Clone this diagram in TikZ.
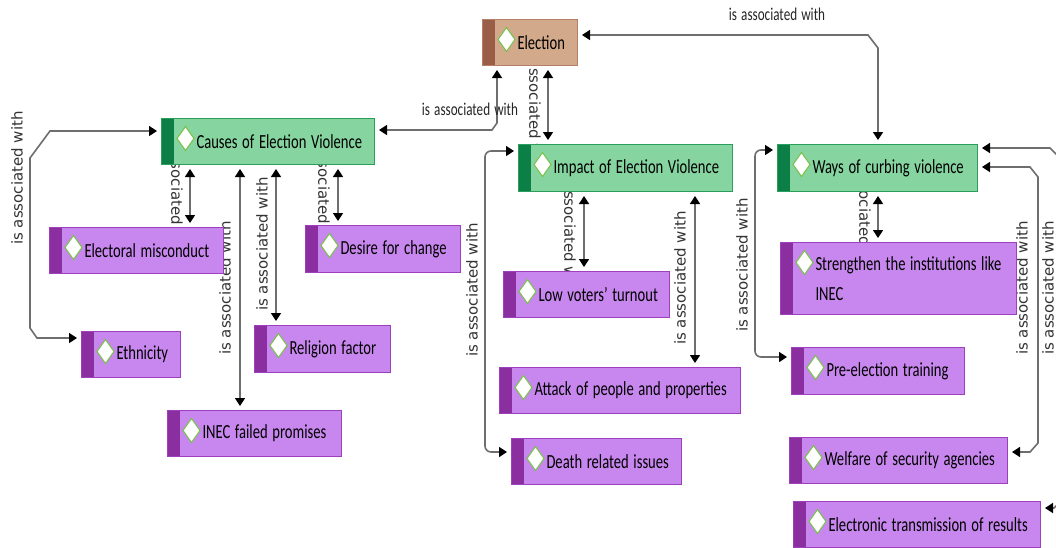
\documentclass[tikz,border=0pt]{standalone}
\usepackage{fontspec}
\usetikzlibrary{arrows.meta}
\newfontfamily\boxfont{Carlito}[FakeStretch=0.73,WordSpace=1.4]
\newfontfamily\labfont{DejaVu Sans}
\definecolor{elecfill}{HTML}{D2A98B}
\definecolor{elecstrip}{HTML}{9A5E48}
\definecolor{elecline}{HTML}{B57E66}
\definecolor{grnfill}{HTML}{86D4A0}
\definecolor{grnstrip}{HTML}{0C7F46}
\definecolor{grnline}{HTML}{2A9F5C}
\definecolor{purfill}{HTML}{C887EE}
\definecolor{purstrip}{HTML}{8B2EA0}
\definecolor{purline}{HTML}{9E40BB}
\definecolor{diamline}{HTML}{7CC251}
\definecolor{connline}{HTML}{6E6E6E}
\pgfdeclarelayer{bg}
\pgfsetlayers{bg,main}
\begin{document}
\begin{tikzpicture}[x=1pt,y=-1pt]
\tikzstyle{conc}=[anchor=north west, inner sep=0pt, align=flush left, line width=1pt, font=\boxfont\fontsize{20}{30}\selectfont,
  path picture={\fill[#1] (path picture bounding box.north west) rectangle ([xshift=12pt]path picture bounding box.south west);
    \draw[diamline, fill=white, line width=1.1pt] ([xshift=24pt,yshift=-20pt]path picture bounding box.north west) +(0,12pt) -- +(8.5pt,0) -- +(0,-12pt) -- +(-8.5pt,0) -- cycle;}]
\tikzstyle{elecbox}=[conc=elecstrip, fill=elecfill, draw=elecline]
\tikzstyle{grnbox}=[conc=grnstrip, fill=grnfill, draw=grnline]
\tikzstyle{purbox}=[conc=purstrip, fill=purfill, draw=purline]
\tikzstyle{conn}=[draw=connline, line width=1.6pt, shorten >=4pt, shorten <=4pt, {Triangle[width=10pt,length=8pt,color=black]}-{Triangle[width=10pt,length=8pt,color=black]}]
\tikzstyle{vlab}=[font=\labfont\fontsize{15}{15}\selectfont, text=black!80, inner sep=0pt]
\tikzstyle{hlab}=[font=\boxfont\fontsize{18}{18}\selectfont, text=black!85, inner sep=0pt]
\useasboundingbox (0,0) rectangle (1056,547);
\node[elecbox, text width=95pt, minimum height=46pt] (elec) at (482,19) {\hspace*{35pt}Election};
\node[grnbox, text width=213pt, minimum height=46pt] (causes) at (161,118) {\hspace*{35pt}Causes of Election Violence};
\node[grnbox, text width=214pt, minimum height=47pt] (impact) at (518,144) {\hspace*{35pt}Impact of Election Violence};
\node[grnbox, text width=200pt, minimum height=47pt] (ways) at (777,144) {\hspace*{35pt}Ways of curbing violence};
\node[purbox, text width=174pt, minimum height=46pt] (misc) at (49,227) {\hspace*{35pt}Electoral misconduct};
\node[purbox, text width=155pt, minimum height=47pt] (desire) at (305,225) {\hspace*{35pt}Desire for change};
\node[purbox, text width=99pt, minimum height=46pt] (ethnic) at (81,331) {\hspace*{35pt}Ethnicity};
\node[purbox, text width=136pt, minimum height=47pt] (relig) at (254,325) {\hspace*{35pt}Religion factor};
\node[purbox, text width=174pt, minimum height=46pt] (inec) at (167,410) {\hspace*{35pt}INEC failed promises};
\node[purbox, text width=166pt, minimum height=46pt] (lowturn) at (503,271) {\hspace*{35pt}Low voters’ turnout};
\node[purbox, text width=241pt, minimum height=46pt] (attack) at (499,367) {\hspace*{35pt}Attack of people and properties};
\node[purbox, text width=170pt, minimum height=46pt] (death) at (511,438) {\hspace*{35pt}Death related issues};
\node[purbox, text width=236pt, minimum height=72pt] (strength) at (780,242) {\hspace*{35pt}Strengthen the institutions like\\\hspace*{35pt}INEC};
\node[purbox, text width=173pt, minimum height=47pt] (pretrain) at (791,347) {\hspace*{35pt}Pre-election training};
\node[purbox, text width=218pt, minimum height=46pt] (welfare) at (789,437) {\hspace*{35pt}Welfare of security agencies};
\node[purbox, text width=247pt, minimum height=46pt] (etrans) at (793,501) {\hspace*{35pt}Electronic transmission of results};
\begin{pgfonlayer}{bg}
\fill[white] (0,0) rectangle (1056,547);
\clip (0,0) rectangle (1056,547);
\draw[conn] (causes.east |- 0,130) -- (492,130) -- (497,123) -- (elec.south -| 497,0);
\node[hlab] (l1) at (470,109) {is associated with};
\draw[conn] (elec.south -| 548,0) -- (impact.north -| 548,0);
\node[vlab, rotate=-90] (l2) at (535,109) {is associated with};
\draw[conn] (elec.east |- 0,35) -- (868,35) -- (878,48) -- (ways.north -| 878,0);
\node[hlab] (l3) at (777,14) {is associated with};
\draw[conn] (causes.west |- 0,131) -- (50,131) -- (30,158) -- (30,328) -- (37,338) -- (ethnic.west |- 0,338);
\node[vlab, rotate=90] (l4) at (17,178) {is associated with};
\draw[conn] (causes.south -| 190,0) -- (misc.north -| 190,0);
\node[vlab, rotate=-90] (l5) at (177,195) {is associated with};
\draw[conn] (causes.south -| 240,0) -- (inec.north -| 240,0);
\node[vlab, rotate=90] (l6) at (225,288) {is associated with};
\draw[conn] (causes.south -| 276,0) -- (relig.north -| 276,0);
\node[vlab, rotate=90] (l7) at (262,244) {is associated with};
\draw[conn] (causes.south -| 338,0) -- (desire.north -| 338,0);
\node[vlab, rotate=-90] (l8) at (324,194) {is associated with};
\draw[conn, rounded corners=6pt] (impact.west |- 0,151) -- (485,151) -- (485,452) -- (death.west |- 0,452);
\node[vlab, rotate=90] (l9) at (472,290) {is associated with};
\draw[conn] (impact.south -| 584,0) -- (lowturn.north -| 584,0);
\node[vlab, rotate=-90] (l10) at (570,232) {is associated with};
\draw[conn] (impact.south -| 695,0) -- (attack.north -| 695,0);
\node[vlab, rotate=90] (l11) at (680,278) {is associated with};
\draw[conn, rounded corners=6pt] (ways.west |- 0,150) -- (755,150) -- (755,357) -- (pretrain.west |- 0,357);
\node[vlab, rotate=90] (l12) at (742,265) {is associated with};
\draw[conn] (ways.south -| 878,0) -- (strength.north -| 878,0);
\node[vlab, rotate=-90] (l13) at (865,216) {is associated with};
\draw[conn] (ways.east |- 0,167) -- (1030,167) -- (1038,177) -- (1038,443) -- (1030,452) -- (welfare.east |- 0,452);
\node[vlab, rotate=90] (l14) at (1022,288) {is associated with};
\draw[conn] (ways.east |- 0,148) -- (1050,148) -- (1062,160) -- (1062,500) -- (1054,508) -- (etrans.east |- 0,508);
\node[vlab, rotate=90] (l15) at (1048,288) {is associated with};
\end{pgfonlayer}
\end{tikzpicture}
\end{document}
